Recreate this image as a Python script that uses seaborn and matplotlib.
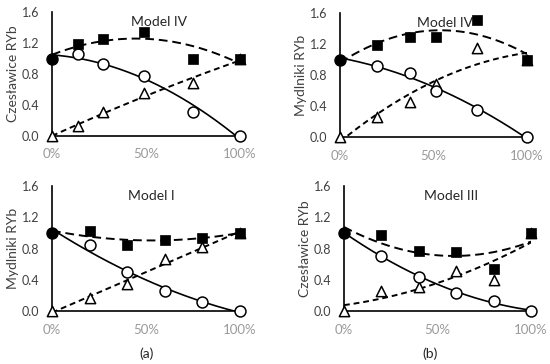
import numpy as np
import pandas as pd
import matplotlib
matplotlib.use("Agg")
import matplotlib.pyplot as plt
import seaborn as sns

# ---- data ----
titles = ["Model IV", "Model IV", "Model I", "Model III"]
ylabels = ["Czesławice RYb", "Mydlniki RYb", "Mydlniki RYb", "Czesławice RYb"]

p1_x = [0, 0.14, 0.27, 0.49, 0.75, 1.0]
p1_sq = [1.0, 1.19, 1.25, 1.34, 1.0, 1.0]
p1_ci = [1.0, 1.06, 0.93, 0.78, 0.31, 0.0]
p1_tr = [0.0, 0.13, 0.31, 0.55, 0.69, 1.0]

p2_x = [0, 0.2, 0.375, 0.515, 0.73, 1.0]
p2_sq = [1.0, 1.19, 1.29, 1.29, 1.51, 1.0]
p2_ci = [1.0, 0.92, 0.83, 0.59, 0.345, 0.0]
p2_tr = [0.0, 0.26, 0.45, 0.69, 1.15, 1.0]

p3_x = [0, 0.2, 0.4, 0.6, 0.8, 1.0]
p3_sq = [1.0, 1.03, 0.85, 0.91, 0.94, 1.0]
p3_ci = [1.0, 0.85, 0.50, 0.25, 0.11, 0.0]
p3_tr = [0.0, 0.17, 0.34, 0.66, 0.82, 1.0]

p4_x = [0, 0.2, 0.4, 0.6, 0.8, 1.0]
p4_sq = [1.0, 0.97, 0.77, 0.75, 0.54, 1.0]
p4_ci = [1.0, 0.71, 0.44, 0.23, 0.13, 0.0]
p4_tr = [0.0, 0.26, 0.31, 0.51, 0.40, 1.0]

yticks = [0.0, 0.4, 0.8, 1.2, 1.6]
xticks = [0, 0.5, 1.0]
xticklabels = ["0%", "50%", "100%"]
panel_labels = ["(a)", "(b)"]

panels = [
    (p1_x, p1_sq, p1_ci, p1_tr),
    (p2_x, p2_sq, p2_ci, p2_tr),
    (p3_x, p3_sq, p3_ci, p3_tr),
    (p4_x, p4_sq, p4_ci, p4_tr),
]

# ---- layout ----
sns.set_style("white")
plt.rcParams['font.family'] = ['Lato', 'DejaVu Sans']

W, H = 550, 364
fig = plt.figure(figsize=(W / 100, H / 100), dpi=100)

# pixel boxes: (left, right, y0 pixel, y1.6 pixel)
boxes = [(52, 240, 136, 12), (340, 527, 137, 13), (52, 240, 311, 186), (344, 531, 311, 186)]
title_pos = [0.57, 0.56, 0.53, 0.57]

xx = np.linspace(0, 1, 200)

for i, ((l, r, yb, yt), (x, sq, ci, tr)) in enumerate(zip(boxes, panels)):
    ax = fig.add_axes([l / W, (H - yb) / H, (r - l) / W, (yb - yt) / H])
    x = np.array(x)
    # trend lines
    for vals, ls, lw in [(sq, (0, (4.5, 2.5)), 1.4), (ci, "-", 1.2), (tr, (0, (3, 2)), 1.4)]:
        coef = np.polyfit(x, np.array(vals), 2)
        df = pd.DataFrame({"x": xx, "y": np.polyval(coef, xx)})
        sns.lineplot(data=df, x="x", y="y", ax=ax, color="black", linestyle=ls,
                     linewidth=lw, zorder=2)
    # markers
    sns.scatterplot(x=x, y=tr, ax=ax, marker="^", s=55, facecolor="white",
                    edgecolor="black", linewidth=1.1, zorder=4, clip_on=False)
    sns.scatterplot(x=x, y=ci, ax=ax, marker="o", s=62, facecolor="white",
                    edgecolor="black", linewidth=1.1, zorder=5, clip_on=False)
    sns.scatterplot(x=x[1:], y=sq[1:], ax=ax, marker="s", s=42, color="black",
                    edgecolor="black", linewidth=0.5, zorder=6, clip_on=False)
    sns.scatterplot(x=x[:1], y=sq[:1], ax=ax, marker="o", s=55, color="black",
                    edgecolor="black", linewidth=0.5, zorder=7, clip_on=False)

    ax.set_xlim(0, 1)
    ax.set_ylim(0, 1.6)
    ax.set_xticks(xticks)
    ax.set_xticklabels(xticklabels, color="#9a9a9a", fontsize=9.5)
    ax.set_yticks(yticks)
    ax.set_yticklabels([f"{v:.1f}" for v in yticks], color="#404040", fontsize=9)
    ax.tick_params(axis="x", length=0, pad=9)
    ax.tick_params(axis="y", length=0, pad=9)
    for s in ["top", "right"]:
        ax.spines[s].set_visible(False)
    for s in ["left", "bottom"]:
        ax.spines[s].set_color("black")
        ax.spines[s].set_linewidth(1.2)
    ax.set_xlabel("")
    ax.set_ylabel(ylabels[i], fontsize=10, color="#404040", labelpad=2)
    ax.text(title_pos[i], 0.97, titles[i], transform=ax.transAxes, ha="center",
            va="top", fontsize=10, color="#262626")

fig.text(147 / W, 1 - 354 / H, panel_labels[0], ha="center", va="center", fontsize=10, color="#262626")
fig.text(430 / W, 1 - 354 / H, panel_labels[1], ha="center", va="center", fontsize=10, color="#262626")

fig.savefig("out.png", dpi=100)
